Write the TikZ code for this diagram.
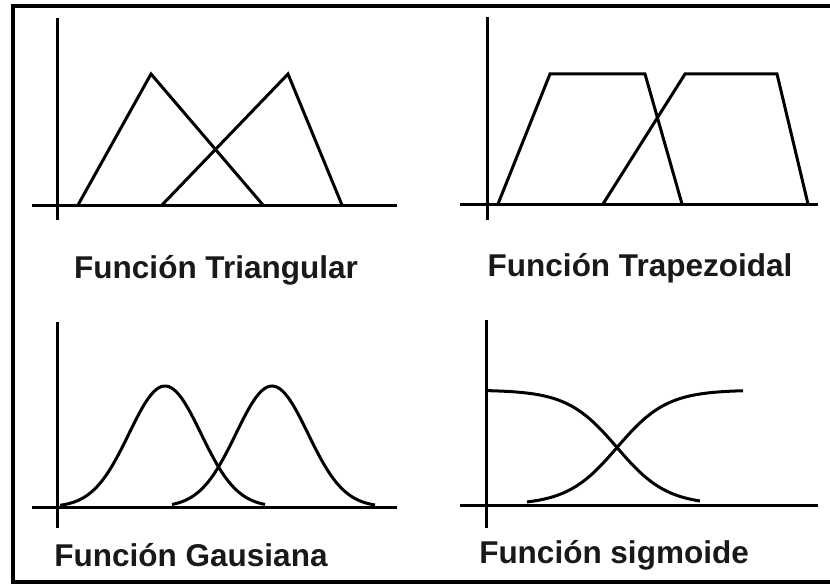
\documentclass[tikz,border=0pt]{standalone}
\usepackage{fontspec}
\setmainfont{Liberation Sans}
\usetikzlibrary{positioning}
\tikzset{
  axis/.style={line width=3pt, draw=black},
  curve/.style={line width=3pt, draw=black, line join=miter},
  frame/.style={line width=4pt, draw=black},
  lbl/.style={font=\fontsize{31.5}{36}\selectfont\bfseries, text=black!90, inner sep=0pt},
}
\begin{document}
\begin{tikzpicture}[x=1pt, y=-1pt]
  \useasboundingbox (0,0) rectangle (830,586);
  \fill[white] (0,0) rectangle (830,586);
  \draw[frame] (840,6) -- (13,6) -- (13,582) -- (840,582);

  % ---- triangular --------------------------------------------------
  \draw[axis] (57,18) -- (57,220);
  \draw[axis] (32,205) -- (397,205);
  \draw[curve] (78,205) -- (151,74) -- (263,205);
  \draw[curve] (162,205) -- (288,74) -- (342,205);
  \node[lbl] (tri) at (216,270) {Función Triangular};

  % ---- trapezoidal -------------------------------------------------
  \draw[axis] (487,17) -- (487,220);
  \draw[axis] (460,204) -- (818,204);
  \draw[curve] (498,204) -- (550,74) -- (645,74) -- (682,204);
  \draw[curve] (603,204) -- (685,74) -- (777,74) -- (808,204);
  \node[lbl] (trap) at (640,268) {Función Trapezoidal};

  % ---- gaussian ----------------------------------------------------
  \draw[axis] (57,322) -- (57,528);
  \draw[axis] (32,507) -- (397,507);
  \draw[curve] plot[domain=60:265, samples=80, smooth]
    (\x, {507 - 121*exp(-((\x-165)^2)/2592)});
  \draw[curve] plot[domain=172:375, samples=80, smooth]
    (\x, {507 - 121*exp(-((\x-272)^2)/2592)});
  \node[lbl] (gauss) at (191,555) {Función Gausiana};

  % ---- sigmoid -----------------------------------------------------
  \draw[axis] (486,320) -- (486,528);
  \draw[axis] (460,505) -- (818,505);
  \draw[curve] plot[domain=488:700, samples=80, smooth]
    (\x, {505 - 115/(1+exp((\x-617)/25))});
  \draw[curve] plot[domain=527:743, samples=80, smooth]
    (\x, {505 - 115/(1+exp(-(\x-617)/25))});
  \node[lbl] (sigm) at (614,555) {Función sigmoide};
\end{tikzpicture}
\end{document}
